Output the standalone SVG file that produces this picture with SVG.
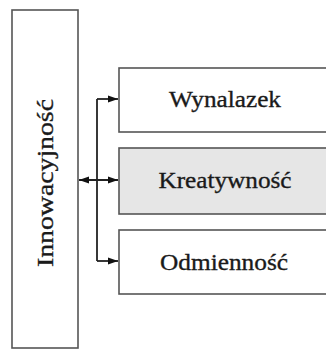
<svg xmlns="http://www.w3.org/2000/svg" width="326" height="350" viewBox="0 0 326 350">
<style>
.box{fill:#fff;stroke:#555;stroke-width:1.6}
.gray{fill:#e6e6e6}
.t{font-family:"Liberation Serif","Times New Roman",serif;font-size:24px;fill:#1a1a1a;stroke:#1a1a1a;stroke-width:0.35;text-anchor:middle}
.c{stroke:#222;stroke-width:1.8;fill:none}
</style>
<defs>
<marker id="ah" viewBox="0 0 10 8" refX="10" refY="4" markerWidth="10" markerHeight="8" orient="auto-start-reverse" markerUnits="userSpaceOnUse">
<path d="M0,0.5 L10,4 L0,7.5 Z" fill="#111"/>
</marker>
</defs>
<rect width="326" height="350" fill="#fff"/>
<g id="innowacyjnosc">
<rect class="box" x="12" y="10" width="66" height="338"/>
<text class="t" transform="translate(53,183) rotate(-90)" font-size="25" textLength="168" lengthAdjust="spacingAndGlyphs">Innowacyjność</text>
</g>
<g id="wynalazek">
<rect class="box" x="119" y="68" width="214" height="64"/>
<text class="t" x="225" y="107" textLength="112" lengthAdjust="spacingAndGlyphs">Wynalazek</text>
</g>
<g id="kreatywnosc">
<rect class="box gray" x="119" y="148" width="214" height="66"/>
<text class="t" x="225" y="188" textLength="133" lengthAdjust="spacingAndGlyphs">Kreatywność</text>
</g>
<g id="odmiennosc">
<rect class="box" x="119" y="230" width="214" height="64"/>
<text class="t" x="224" y="270" textLength="128" lengthAdjust="spacingAndGlyphs">Odmienność</text>
</g>
<g id="connectors">
<path class="c" d="M97,99 V261"/>
<path class="c" d="M97,99 H118" marker-end="url(#ah)"/>
<path class="c" d="M97,261 H118" marker-end="url(#ah)"/>
<path class="c" d="M79,180 H118" marker-start="url(#ah)" marker-end="url(#ah)"/>
</g>
</svg>
